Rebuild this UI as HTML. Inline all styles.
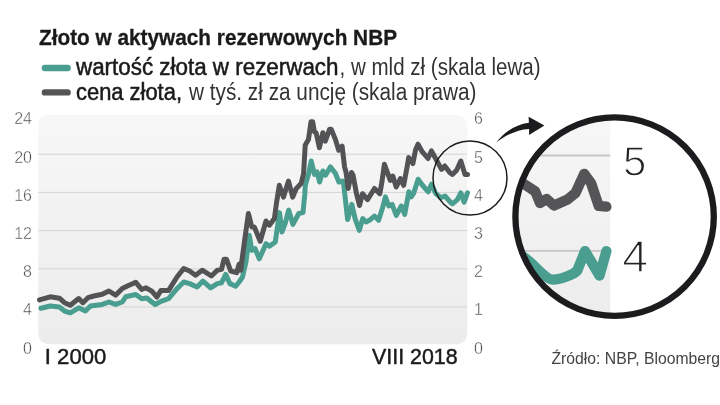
<!DOCTYPE html>
<html lang="pl"><head><meta charset="utf-8"><title>Złoto w aktywach rezerwowych NBP</title>
<style>
html,body{margin:0;padding:0;background:#fff;}
body{width:720px;height:405px;overflow:hidden;font-family:"Liberation Sans",sans-serif;}
svg{display:block;}
text{font-family:"Liberation Sans",sans-serif;}
.ax text{font-size:16px;fill:#4c4c4c;stroke:#fff;stroke-width:0.4px;}
</style></head><body>
<svg width="720" height="405" viewBox="0 0 720 405">
<defs>
<linearGradient id="bg" x1="0" y1="0" x2="0" y2="1"><stop offset="0" stop-color="#f7f7f7"/><stop offset="1" stop-color="#ececec"/></linearGradient>
<clipPath id="mag"><circle cx="614.6" cy="216.6" r="99.5"/></clipPath>
</defs>
<rect width="720" height="405" fill="#fff"/>
<!-- header -->
<text x="39" y="45.3" font-size="22" font-weight="bold" fill="#1a1a1a" stroke="#1a1a1a" stroke-width="0.3" textLength="358" lengthAdjust="spacingAndGlyphs">Złoto w aktywach rezerwowych NBP</text>
<line x1="44.9" x2="67.6" y1="68" y2="68" stroke="#4a9e90" stroke-width="6.4" stroke-linecap="round"/>
<line x1="44.9" x2="67.6" y1="92.4" y2="92.4" stroke="#555" stroke-width="6.4" stroke-linecap="round"/>
<text x="76" y="74.5" font-size="23" fill="#1a1a1a" stroke="#1a1a1a" stroke-width="0.5" textLength="262.5" lengthAdjust="spacingAndGlyphs">wartość złota w rezerwach</text>
<text x="339.5" y="74.5" font-size="23" fill="#333" textLength="201" lengthAdjust="spacingAndGlyphs">, w mld zł (skala lewa)</text>
<text x="76" y="99.5" font-size="23" fill="#1a1a1a" stroke="#1a1a1a" stroke-width="0.5" textLength="106" lengthAdjust="spacingAndGlyphs">cena złota,</text>
<text x="189" y="99.5" font-size="23" fill="#333" textLength="287.5" lengthAdjust="spacingAndGlyphs">w tyś. zł za uncję (skala prawa)</text>
<!-- plot -->
<rect x="38.3" y="115" width="429" height="229.3" rx="10" ry="10" fill="url(#bg)"/>
<g stroke="#d4d4d4" stroke-width="1"><line x1="38.3" x2="467.3" y1="307.0" y2="307.0"/><line x1="38.3" x2="467.3" y1="268.8" y2="268.8"/><line x1="38.3" x2="467.3" y1="230.6" y2="230.6"/><line x1="38.3" x2="467.3" y1="192.4" y2="192.4"/><line x1="38.3" x2="467.3" y1="154.2" y2="154.2"/></g>
<g class="ax"><text x="32" y="353.5" text-anchor="end">0</text><text x="32" y="315.3" text-anchor="end">4</text><text x="32" y="277.1" text-anchor="end">8</text><text x="32" y="238.9" text-anchor="end">12</text><text x="32" y="200.7" text-anchor="end">16</text><text x="32" y="162.5" text-anchor="end">20</text><text x="32" y="124.3" text-anchor="end">24</text><text x="474" y="353.5">0</text><text x="474" y="315.3">1</text><text x="474" y="277.1">2</text><text x="474" y="238.9">3</text><text x="474" y="200.7">4</text><text x="474" y="162.5">5</text><text x="474" y="124.3">6</text></g>
<polyline points="41,308.3 50.2,306 59.4,307 64.5,311 70.3,312.8 78.7,307.8 85.4,311 90.5,306 102.2,304.4 109,302 115.6,304.4 122.3,302 125.7,296.8 135.8,294.5 141.7,298.7 146.8,298 151.8,302 155.2,304.6 161,301.3 168.6,298.7 177,288.7 183.7,282 189.6,283.6 197.1,287 203,281.1 210.6,287.8 217.3,283.6 221.5,282.8 225.7,274.4 229.9,283.6 235.7,286.2 239.1,282 242.5,277 245.9,262.1 249.3,235.3 251.8,250.4 255.1,248.7 259.3,258.8 266,243.7 269.4,246.2 275.3,242 279.5,212.6 282,231.9 285.4,222.7 288.7,210.1 292.9,224.4 298.8,213.5 303,212.6 304.7,195 305.3,185.3 308.7,173.6 311.2,161 314.5,174.4 317.1,171.9 319.6,182 322.9,171 325.5,175.2 330.5,166.9 335.5,173.6 338.9,182 342.2,181.1 343.4,181.7 345.1,196.8 347.6,219.5 351.8,204.4 355.1,218.6 359.3,230.4 362.7,218.6 366,222 369.4,220.3 374.4,216.1 378.6,220.3 382.8,206.9 385.4,196.8 388.7,206 392.1,204.4 396.3,215.3 401.3,206 404.7,214.4 408.9,191.8 411.4,196.8 413.9,192.6 418.1,179.2 422.3,185 428.2,191.8 431.5,184.2 435.7,193.5 440.7,197.7 445,196 450.8,202.7 452.4,203.8 457.4,199.6 460.8,192.9 464.1,202.1 467.5,192.9" fill="none" stroke="#4a9e90" stroke-width="5" stroke-linejoin="round" stroke-linecap="round"/>
<polyline points="39.5,299.9 50.2,296.8 59.4,298.2 64.5,302.7 70.3,305.2 78.7,298.5 82.9,302.7 88,297.7 93.8,296 102.2,294.3 108.9,291 115.6,295.2 122.3,288.5 127.4,286 135.8,282.3 141.7,289.5 146,287.8 151.8,291.2 156.9,297 161,290.4 168.6,290.4 177,277 183.7,268.5 189.6,271 195.5,275.2 202.2,270.2 211.4,276 217.3,270.2 221.5,269.4 224,259.3 226.5,259.3 230.7,271 236.6,272.7 239.1,264.3 240.8,270.2 241.7,262.1 245.1,237 248.4,213.5 251.8,226.9 254.3,226.9 260.2,241.2 266,221 269.4,225.2 274.4,218.5 276.5,203 279.3,185.3 283.5,197.1 288.5,181.1 292.7,197.1 296.1,188.7 301.1,183.6 303.6,173.6 305.2,145.3 308.5,139.4 311,121.8 312.7,121.8 314.4,131.9 316.1,132.7 319.4,147.8 322.8,132.7 325.3,141.1 329.5,129.3 331.2,129.3 335.4,139.4 338.7,150.3 342.1,146.1 344.6,167.1 346,172 348.2,188.5 351.5,172.5 353,175 356.5,193.7 359.5,205.5 362.5,193.7 367.5,199.6 374.5,188.5 379.8,193.7 381.9,182 384.4,164.3 387.8,173.6 390.3,180.3 392.8,176.1 396.2,187 400.4,178.6 403.7,185.3 407.1,166.9 408.7,157.6 412.9,163.5 415.5,150 418,144.2 422.2,151.7 428,158.5 431.4,150.9 435.6,158.5 441.5,169.4 444.8,166 449.9,172.7 452.4,174.4 456.6,170.2 460.8,161 465,174.4 467.5,174.4" fill="none" stroke="#535355" stroke-width="5" stroke-linejoin="round" stroke-linecap="round"/>
<text x="44.8" y="363.5" font-size="22" fill="#1a1a1a" stroke="#1a1a1a" stroke-width="0.45" textLength="61.5" lengthAdjust="spacingAndGlyphs">I 2000</text>
<text x="372" y="363.5" font-size="22" fill="#1a1a1a" stroke="#1a1a1a" stroke-width="0.45" textLength="85.6" lengthAdjust="spacingAndGlyphs">VIII 2018</text>
<!-- small circle + arrow -->
<circle cx="470" cy="178" r="37" fill="none" stroke="#1c1c1e" stroke-width="1.5"/>
<path d="M496.1,142.6 C503,133 515,124.5 528.9,122.8 L528.6,116.7 L544.4,125.6 L529.1,135 L529.1,128.9 C518,129.5 505,135 496.1,142.6 Z" fill="#1c1c1e"/>
<!-- magnifier -->
<g clip-path="url(#mag)">
<rect x="500" y="100" width="230" height="230" fill="#fff"/>
<rect x="500" y="110" width="110.2" height="215" fill="url(#bg)"/>
<g stroke="#c6c6c6" stroke-width="1.8"><line x1="500" x2="610.2" y1="155.5" y2="155.5"/><line x1="500" x2="610.2" y1="250.9" y2="250.9"/></g>
<path d="M516,251 L527,259.5 C533,264 538,270 541,272.5 C546,277 550,279.7 553,279.7 C558,279.7 563,278 568,276 C572,274.5 575,273 577.3,270.5 L585,251.1 L599.5,275.5 L606.4,251.1" fill="none" stroke="#4a9e90" stroke-width="10.3" stroke-linejoin="round" stroke-linecap="round"/>
<polyline points="512,175 524,184 535.2,191.4 540,203 546.7,199 554,205.5 567.5,199.5 575.5,193 584.2,173.8 591,183 598.7,205.9 606.4,206.7" fill="none" stroke="#555557" stroke-width="10.3" stroke-linejoin="round" stroke-linecap="round"/>
</g>
<circle cx="614.6" cy="216.6" r="99.2" fill="none" stroke="#1c1c1e" stroke-width="6.3"/>
<text transform="translate(623,175.6) scale(0.99,1)" font-size="42.5" fill="#222" stroke="#fff" stroke-width="1.3">5</text>
<text transform="translate(622.2,272.4) scale(1.07,1)" font-size="43.5" fill="#222" stroke="#fff" stroke-width="1.3">4</text>
<text x="551.5" y="363.9" font-size="16.5" fill="#444" textLength="168.5" lengthAdjust="spacingAndGlyphs">Źródło: NBP, Bloomberg</text>
</svg>
</body></html>
